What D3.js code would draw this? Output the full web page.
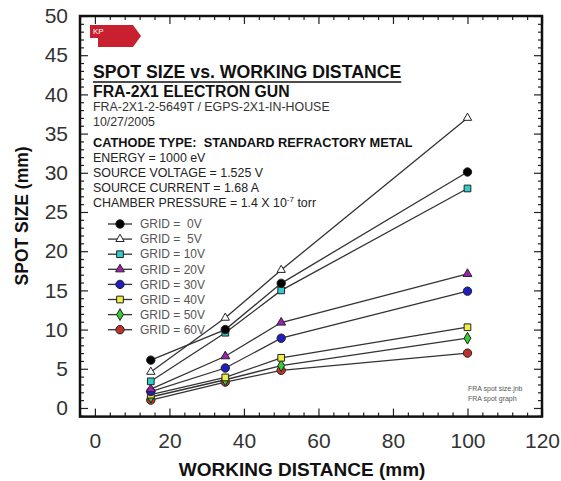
<!DOCTYPE html>
<html>
<head>
<meta charset="utf-8">
<script src="https://cdn.jsdelivr.net/npm/d3@7"></script>
<style>
  body { margin: 0; background: #fff; }
  svg { font-family: "Liberation Sans", Arial, sans-serif; }
</style>
</head>
<body>
<div id="chart"></div>
<script>
// working distance (mm)
var distances = [15, 35, 50, 100];

// spot size (mm) per grid voltage
var grid0V  = [6.1, 10.0, 15.9, 30.1];
var grid5V  = [4.6, 11.5, 17.6, 37.0];
var grid10V = [3.4, 9.6, 15.0, 28.0];
var grid20V = [2.4, 6.6, 10.9, 17.1];
var grid30V = [2.1, 5.1, 8.9, 14.9];
var grid40V = [1.7, 3.9, 6.4, 10.3];
var grid50V = [1.4, 3.6, 5.4, 8.9];
var grid60V = [1.0, 3.3, 4.8, 7.0];

var seriesNames = ["GRID =  0V", "GRID =  5V", "GRID = 10V", "GRID = 20V",
                   "GRID = 30V", "GRID = 40V", "GRID = 50V", "GRID = 60V"];

var xTicks = [0, 20, 40, 60, 80, 100, 120];
var yTicks = [0, 5, 10, 15, 20, 25, 30, 35, 40, 45, 50];

var notes = [
    "FRA-2X1-2-5649T / EGPS-2X1-IN-HOUSE",
    "10/27/2005"
];
var conditions = [
    "ENERGY = 1000 eV",
    "SOURCE VOLTAGE = 1.525 V",
    "SOURCE CURRENT = 1.68 A"
];

function init()
{
    var w = 561;
    var h = 481;

    var series = [
        {name: seriesNames[0], values: grid0V,  shape: d3.symbolCircle,   fill: "#000000", size: 55},
        {name: seriesNames[1], values: grid5V,  shape: d3.symbolTriangle, fill: "#ffffff", size: 30},
        {name: seriesNames[2], values: grid10V, shape: d3.symbolSquare,   fill: "#33cccc", size: 45},
        {name: seriesNames[3], values: grid20V, shape: d3.symbolTriangle, fill: "#a020b0", size: 34},
        {name: seriesNames[4], values: grid30V, shape: d3.symbolCircle,   fill: "#1f1fc0", size: 55},
        {name: seriesNames[5], values: grid40V, shape: d3.symbolSquare,   fill: "#eeee44", size: 45},
        {name: seriesNames[6], values: grid50V, shape: d3.symbolDiamond,  fill: "#33cc33", size: 40},
        {name: seriesNames[7], values: grid60V, shape: d3.symbolCircle,   fill: "#c0302a", size: 55}
    ];

    var x = d3.scaleLinear().domain([-4, 120]).range([80, 542]);
    var y = d3.scaleLinear().domain([-1.1, 50]).range([416.6, 16]);

    var svg = d3.select("#chart")
        .append("svg")
        .attr("width", w)
        .attr("height", h);

    // tick marks and labels
    var xMinor = d3.range(-4, 121, 4).filter(function(v){ return v % 20 !== 0; });
    var yMinor = d3.range(-1, 51, 1).filter(function(v){ return v % 5 !== 0; });

    function styleAxis(g) {
        g.select(".domain").remove();
        g.selectAll(".tick line").attr("stroke", "#222").attr("stroke-width", 1.2);
        g.selectAll(".tick text").attr("fill", "#333").style("font-size", "21px");
    }

    svg.append("g")
        .attr("transform", "translate(0," + y(-1.1) + ")")
        .call(d3.axisBottom(x).tickValues(xTicks).tickSizeInner(-8).tickSizeOuter(0).tickPadding(16))
        .call(styleAxis);
    svg.append("g")
        .attr("transform", "translate(0," + y(-1.1) + ")")
        .call(d3.axisBottom(x).tickValues(xMinor).tickSize(-4).tickFormat(""))
        .call(styleAxis);
    svg.append("g")
        .attr("transform", "translate(0," + y(50) + ")")
        .call(d3.axisTop(x).tickValues(xTicks).tickSize(-8).tickFormat(""))
        .call(styleAxis);
    svg.append("g")
        .attr("transform", "translate(0," + y(50) + ")")
        .call(d3.axisTop(x).tickValues(xMinor).tickSize(-4).tickFormat(""))
        .call(styleAxis);

    svg.append("g")
        .attr("transform", "translate(" + x(-4) + ",0)")
        .call(d3.axisLeft(y).tickValues(yTicks).tickSizeInner(-8).tickSizeOuter(0).tickPadding(12))
        .call(styleAxis);
    svg.append("g")
        .attr("transform", "translate(" + x(-4) + ",0)")
        .call(d3.axisLeft(y).tickValues(yMinor).tickSize(-4).tickFormat(""))
        .call(styleAxis);
    svg.append("g")
        .attr("transform", "translate(" + x(120) + ",0)")
        .call(d3.axisRight(y).tickValues(yTicks).tickSize(-8).tickFormat(""))
        .call(styleAxis);
    svg.append("g")
        .attr("transform", "translate(" + x(120) + ",0)")
        .call(d3.axisRight(y).tickValues(yMinor).tickSize(-4).tickFormat(""))
        .call(styleAxis);

    // frame
    svg.append("rect")
        .attr("x", x(-4))
        .attr("y", y(50))
        .attr("width", x(120) - x(-4))
        .attr("height", y(-1.1) - y(50))
        .attr("fill", "none")
        .attr("stroke", "#111")
        .attr("stroke-width", 2.5);

    // axis titles
    svg.append("text")
        .attr("transform", "translate(28," + y(24.5) + ") rotate(-90)")
        .attr("text-anchor", "middle")
        .style("font-size", "17.5px")
        .style("font-weight", "bold")
        .attr("fill", "#111")
        .text("SPOT SIZE (mm)");
    svg.append("text")
        .attr("x", x(55.6))
        .attr("y", 476)
        .attr("text-anchor", "middle")
        .style("font-size", "19px")
        .style("font-weight", "bold")
        .attr("fill", "#111")
        .text("WORKING DISTANCE (mm)");

    // series lines and markers
    var line = d3.line()
        .x(function(d){ return x(d[0]); })
        .y(function(d){ return y(d[1]); });

    series.forEach(function(s){
        var pts = distances.map(function(d, i){ return [d, s.values[i]]; });
        svg.append("path")
            .attr("d", line(pts))
            .attr("fill", "none")
            .attr("stroke", "#333")
            .attr("stroke-width", 1.3);
    });
    series.slice().reverse().forEach(function(s){
        var pts = distances.map(function(d, i){ return [d, s.values[i]]; });
        svg.selectAll(null)
            .data(pts)
            .enter()
            .append("path")
            .attr("transform", function(d){ return "translate(" + x(d[0]) + "," + y(d[1]) + ")"; })
            .attr("d", d3.symbol().type(s.shape).size(s.size))
            .attr("fill", s.fill)
            .attr("stroke", "#222")
            .attr("stroke-width", 1);
    });

    // legend
    var legend = svg.selectAll("g.legend")
        .data(series)
        .enter()
        .append("g")
        .attr("class", "legend")
        .attr("transform", function(d, i){ return "translate(120," + (224 + i * 15.1) + ")"; });
    legend.append("line")
        .attr("x1", -12).attr("x2", 12)
        .attr("stroke", "#333").attr("stroke-width", 1.3);
    legend.append("path")
        .attr("d", function(d){ return d3.symbol().type(d.shape).size(d.size)(); })
        .attr("fill", function(d){ return d.fill; })
        .attr("stroke", "#222");
    legend.append("text")
        .attr("x", 20)
        .attr("dy", "0.35em")
        .style("font-size", "12px")
        .style("white-space", "pre")
        .attr("fill", "#555")
        .text(function(d){ return d.name; });

    // KP tag
    svg.append("path")
        .attr("d", "M90,25 L133,25 L141,36 L133,47 L98,47 L98,38 L90,38 Z")
        .attr("fill", "#c8202e");
    svg.append("text")
        .attr("x", 93).attr("y", 34)
        .style("font-size", "8px")
        .attr("fill", "#fff")
        .text("KP");

    // header block
    var title = svg.append("text")
        .attr("x", 93).attr("y", 78)
        .style("font-size", "17.7px")
        .style("font-weight", "bold")
        .attr("fill", "#111")
        .text("SPOT SIZE vs. WORKING DISTANCE");
    var tw = title.node().getComputedTextLength();
    svg.append("line")
        .attr("x1", 93).attr("x2", 93 + tw)
        .attr("y1", 82).attr("y2", 82)
        .attr("stroke", "#111").attr("stroke-width", 1.6);

    svg.append("text")
        .attr("x", 93).attr("y", 97)
        .style("font-size", "15.8px")
        .style("font-weight", "bold")
        .attr("fill", "#111")
        .text("FRA-2X1 ELECTRON GUN");

    svg.selectAll("text.note")
        .data(notes)
        .enter()
        .append("text")
        .attr("class", "note")
        .attr("x", 93)
        .attr("y", function(d, i){ return 111 + i * 15; })
        .style("font-size", "12.4px")
        .attr("fill", "#333")
        .text(function(d){ return d; });

    svg.append("text")
        .attr("x", 93).attr("y", 147)
        .style("font-size", "12.8px")
        .style("font-weight", "bold")
        .style("white-space", "pre")
        .attr("fill", "#111")
        .text("CATHODE TYPE:  STANDARD REFRACTORY METAL");

    svg.selectAll("text.cond")
        .data(conditions)
        .enter()
        .append("text")
        .attr("class", "cond")
        .attr("x", 93)
        .attr("y", function(d, i){ return 162 + i * 15; })
        .style("font-size", "12.4px")
        .attr("fill", "#222")
        .text(function(d){ return d; });

    var press = svg.append("text")
        .attr("x", 93).attr("y", 207)
        .style("font-size", "12.4px")
        .attr("fill", "#222");
    press.append("tspan").text("CHAMBER PRESSURE = 1.4 X 10");
    press.append("tspan").attr("dy", -5).style("font-size", "8px").text("-7");
    press.append("tspan").attr("dy", 5).text(" torr");

    // file notes
    svg.append("text")
        .attr("x", 468).attr("y", 391)
        .style("font-size", "7px")
        .attr("fill", "#555")
        .text("FRA spot size.jnb");
    svg.append("text")
        .attr("x", 468).attr("y", 401)
        .style("font-size", "7px")
        .attr("fill", "#555")
        .text("FRA spot graph");
}

window.onload = init;
</script>
</body>
</html>
